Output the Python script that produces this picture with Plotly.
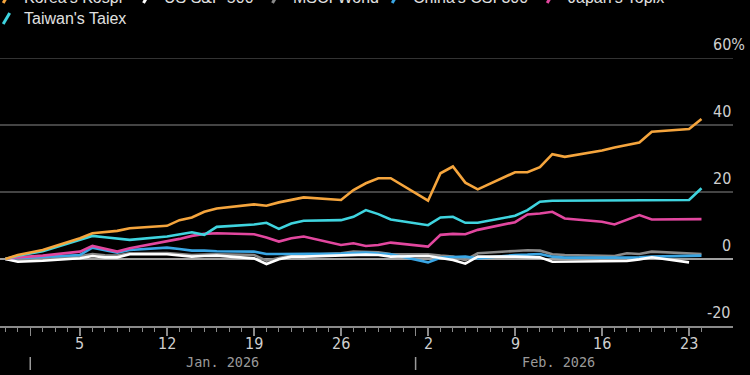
import plotly.graph_objects as go
import pandas as pd

# ---------------- data ----------------
dates = ["2025-12-30", "2025-12-31", "2026-01-02", "2026-01-05", "2026-01-06",
         "2026-01-07", "2026-01-08", "2026-01-09", "2026-01-12", "2026-01-13",
         "2026-01-14", "2026-01-15", "2026-01-16", "2026-01-19", "2026-01-20",
         "2026-01-21", "2026-01-22", "2026-01-23", "2026-01-26", "2026-01-27",
         "2026-01-28", "2026-01-29", "2026-01-30", "2026-02-02", "2026-02-03",
         "2026-02-04", "2026-02-05", "2026-02-06", "2026-02-09", "2026-02-10",
         "2026-02-11", "2026-02-12", "2026-02-13", "2026-02-16", "2026-02-17",
         "2026-02-18", "2026-02-19", "2026-02-20", "2026-02-23", "2026-02-24"]

kospi = [0, 1.2, 2.7, 6.2, 7.7, 8.0, 8.4, 9.2, 9.9, 11.6,
         12.4, 14.1, 15.1, 16.3, 15.9, 16.9, 17.6, 18.4, 17.6, 20.6,
         22.6, 24.1, 24.1, 17.4, 25.6, 27.6, 22.8, 20.8, 25.9, 25.9,
         27.4, 31.3, 30.5, 32.4, 33.3, 34.0, 34.8, 38.0, 38.8, 41.8]
sp500 = [0, -0.8, -0.5, 0.2, 0.9, 0.5, 0.5, 1.4, 1.4, 1.0,
         0.7, 0.9, 1.0, 0.2, -1.5, -0.1, 0.7, 0.7, 1.0, 1.3,
         1.3, 1.2, 0.7, 0.9, 0.3, -0.3, -1.4, 0.7, 0.7, 0.5,
         0.5, -0.8, -0.8, -0.8, -0.8, -0.6, -0.1, 0.5, -1.0, None]
msci_world = [0, -0.4, 0, 0.8, 1.5, 1.1, 1.0, 1.7, 1.8, 1.5,
              1.2, 1.3, 1.4, 1.2, -0.5, 0.3, 1.0, 1.2, 1.7, 2.2,
              2.2, 2.0, 1.5, 1.4, 1.0, 0.7, -0.3, 1.7, 2.4, 2.6,
              2.5, 1.4, 1.2, 1.0, 0.9, 1.7, 1.5, 2.2, 1.7, 1.5]
csi300 = [0, 0.3, 0.6, 1.2, 3.4, 2.6, 1.9, 2.7, 3.4, 3.0,
          2.5, 2.5, 2.3, 2.2, 1.5, 1.5, 1.5, 1.5, 1.6, 1.8,
          1.9, 1.6, 1.4, -1.0, 0.4, 0.6, 0.7, 0.2, 1.2, 1.3,
          1.5, 0.7, 0.4, 0.4, 0.4, 0.4, 0.5, 0.7, 0.9, 1.0]
topix = [0, 0.5, 1.0, 2.2, 3.9, 3.0, 2.2, 3.2, 5.2, 6.0,
         6.9, 7.5, 7.7, 7.4, 6.4, 5.2, 6.2, 6.7, 4.2, 4.7,
         3.9, 4.2, 4.9, 3.7, 7.2, 7.5, 7.4, 8.7, 11.0, 13.3,
         13.6, 14.1, 12.1, 11.1, 10.3, 11.7, 13.1, 11.8, 11.9, 11.9]
taiex = [0, 1.0, 2.3, 5.7, 6.9, 6.5, 6.2, 5.7, 6.7, 7.4,
         8.0, 7.2, 9.6, 10.3, 10.8, 9.0, 10.6, 11.4, 11.6, 12.6,
         14.6, 13.4, 11.8, 10.1, 12.4, 12.6, 10.8, 10.8, 12.9, 14.6,
         17.1, 17.4, 17.4, 17.5, 17.5, 17.5, 17.5, 17.5, 17.6, 21.1]

series_names = ["Korea's Kospi", "US S&P 500", "MSCI World", "China's CSI 300",
                "Japan's Topix", "Taiwan's Taiex"]
series_values = [kospi, sp500, msci_world, csi300, topix, taiex]
series_colors = ["#f5a53d", "#ffffff", "#8a8a8a", "#3aa6e4", "#e2479f", "#3fd4df"]

y_ticks = [-20, 0, 20, 40, 60]
y_tick_labels = ["-20", "0", "20", "40", "60%"]
week_ticks = ["2026-01-05", "2026-01-12", "2026-01-19", "2026-01-26",
              "2026-02-02", "2026-02-09", "2026-02-16", "2026-02-23"]
week_labels = ["5", "12", "19", "26", "2", "9", "16", "23"]
month_starts = ["2026-01-01", "2026-02-01"]
month_labels = ["Jan. 2026", "Feb. 2026"]

# ---------------- layout constants ----------------
W, H = 750, 375
ML, MR, MT, MB = 0, 17, 58, 49
PW, PH = W - ML - MR, H - MT - MB
x_range = ["2025-12-29 13:35", "2026-02-26 12:50"]
GRID_COLOR = "#444444"

TICK_FONT = "Liberation Sans Narrow, Arial Narrow, DejaVu Sans Condensed, Liberation Sans, Arial, sans-serif"
LEG_FONT = "Liberation Sans, Arial, sans-serif"
LABEL_COLOR = "#cfcfcf"


def px_x(p):
    return (p - ML) / PW


def px_y(p):
    return (H - MB - p) / PH


fig = go.Figure()
draw_order = [2, 3, 1, 4, 5, 0]
for i in draw_order:
    fig.add_trace(go.Scatter(
        x=pd.to_datetime(dates), y=series_values[i], name=series_names[i],
        mode="lines", line=dict(color=series_colors[i], width=2.6),
        connectgaps=False, showlegend=False))

annotations = []
shapes = []

# top grid line (at the edge of the plotting area)
shapes.append(dict(type="line", xref="paper", yref="y", x0=0, x1=1,
                   y0=y_ticks[-1], y1=y_ticks[-1], layer="below",
                   line=dict(color=GRID_COLOR, width=1.5)))

# y tick labels sitting above the grid lines
for v, t in zip(y_ticks, y_tick_labels):
    xa = px_x(747) if t.endswith("%") else 1
    annotations.append(dict(x=xa, xref="paper", xanchor="right",
                            y=v, yref="y", yanchor="bottom", yshift=2,
                            text=t, showarrow=False,
                            font=dict(family=TICK_FONT, size=16, color=LABEL_COLOR)))

# x tick labels (day of month on Mondays)
for d, t in zip(week_ticks, week_labels):
    annotations.append(dict(x=d, xref="x", y=px_y(343.5), yref="paper",
                            xanchor="center", yanchor="middle", text=t,
                            showarrow=False,
                            font=dict(family=TICK_FONT, size=16, color=LABEL_COLOR)))

# month labels and separators
all_dates = pd.to_datetime(dates)
month_bounds = [pd.Timestamp(month_starts[0]), pd.Timestamp(month_starts[1]), all_dates[-1]]
for k, lab in enumerate(month_labels):
    mid = month_bounds[k] + (month_bounds[k + 1] - month_bounds[k]) / 2
    annotations.append(dict(x=mid, xref="x", y=px_y(362), yref="paper",
                            xanchor="center", yanchor="middle", text=lab,
                            showarrow=False,
                            font=dict(family="DejaVu Sans Mono, Liberation Mono, monospace",
                                      size=13.5, color="#9a9a9a")))
for m in month_starts:
    shapes.append(dict(type="line", xref="x", yref="paper", x0=m, x1=m,
                       y0=px_y(357), y1=px_y(370),
                       line=dict(color="#9a9a9a", width=1.5)))

# legend (manual, clipped at the top like the reference)
leg_rows = [
    [(0, 22.7), (1, 163), (2, 292), (3, 411.7), (4, 566.7)],
    [(5, 22.7)],
]
row_baselines = [3, 24]
for r, items in enumerate(leg_rows):
    base = row_baselines[r]
    for idx, tx in items:
        shapes.append(dict(type="line", xref="paper", yref="paper",
                           x0=px_x(tx - 19.5), y0=px_y(base),
                           x1=px_x(tx - 13), y1=px_y(base - 11),
                           line=dict(color=series_colors[idx], width=3)))
        annotations.append(dict(x=px_x(tx - 1), xref="paper", xanchor="left",
                                y=px_y(base - 5.5), yref="paper", yanchor="middle",
                                text=series_names[idx], showarrow=False,
                                font=dict(family=LEG_FONT, size=16, color="#e0e0e0")))

fig.update_layout(
    width=W, height=H,
    margin=dict(l=ML, r=MR, t=MT, b=MB, pad=0),
    paper_bgcolor="#000000", plot_bgcolor="#000000",
    showlegend=False,
    annotations=annotations, shapes=shapes,
    xaxis=dict(
        type="date", range=x_range, showgrid=False, zeroline=False,
        showline=True, linecolor="#8a8a8a", linewidth=1.5,
        tickmode="array",
        tickvals=month_starts + week_ticks,
        showticklabels=False,
        ticks="outside", ticklen=8, tickwidth=1.5, tickcolor="#8a8a8a",
        minor=dict(tickmode="array", tickvals=pd.date_range(dates[0], dates[-1], freq="D"),
                   ticks="outside", ticklen=4.5, tickwidth=1, tickcolor="#8a8a8a",
                   showgrid=False),
        fixedrange=True,
    ),
    yaxis=dict(
        range=[-20, 60], tickvals=y_ticks, showticklabels=False,
        showgrid=True, gridcolor=GRID_COLOR, gridwidth=1.5,
        zeroline=True, zerolinecolor="#a0a0a0", zerolinewidth=1.5,
        showline=False, ticks="", fixedrange=True,
    ),
)

fig.write_html("out.html", config={"displayModeBar": False, "staticPlot": True})

# remove the browser's default page margin so the figure fills the window
with open("out.html", "r", encoding="utf-8") as f:
    html = f.read()
html = html.replace("<head>", "<head><style>html,body{margin:0;padding:0;background:#000;overflow:hidden;}</style>", 1)
with open("out.html", "w", encoding="utf-8") as f:
    f.write(html)
